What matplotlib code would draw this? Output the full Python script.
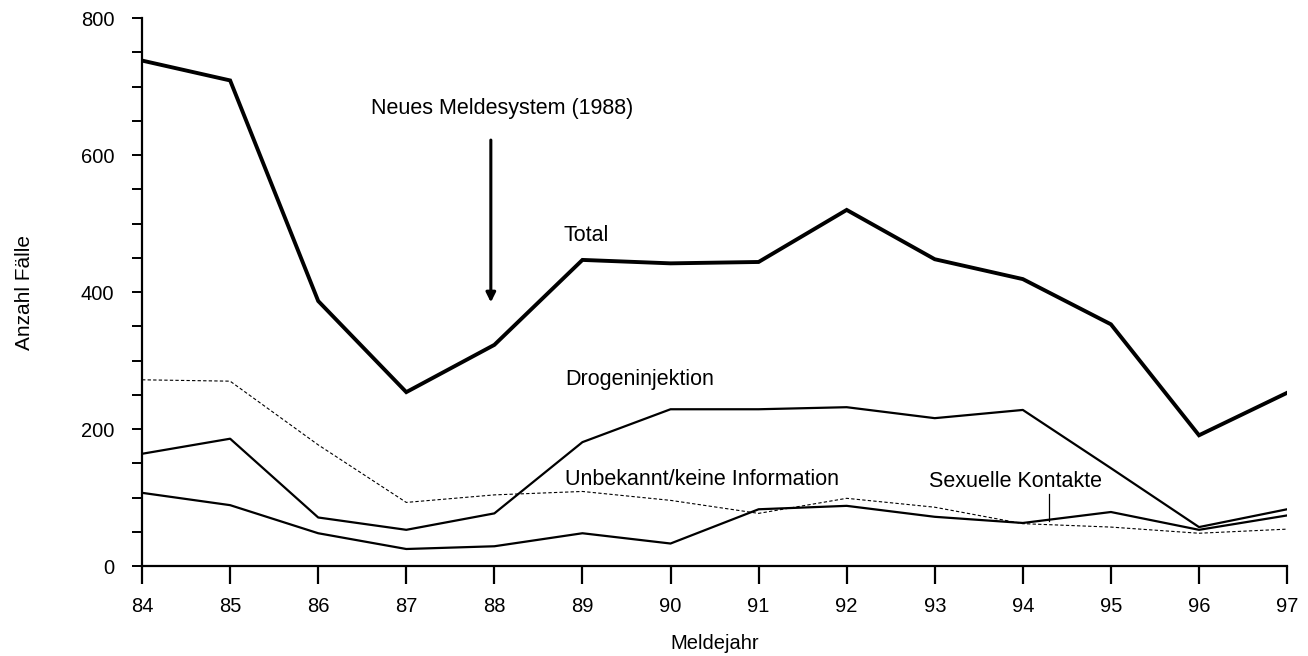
import matplotlib.pyplot as plt
from matplotlib.ticker import MultipleLocator

plt.rcParams['font.family'] = ['Liberation Sans', 'DejaVu Sans']

# data (Meldejahr 1984-1997)
years = [84, 85, 86, 87, 88, 89, 90, 91, 92, 93, 94, 95, 96, 97]
total = [738, 709, 387, 254, 323, 447, 442, 444, 520, 448, 419, 353, 191, 253]
drogen = [164, 186, 71, 53, 77, 181, 229, 229, 232, 216, 228, 143, 57, 83]
unbekannt = [272, 270, 177, 93, 104, 109, 96, 77, 99, 86, 62, 57, 48, 54]
sexuell = [107, 89, 48, 25, 29, 48, 33, 83, 88, 72, 63, 79, 53, 74]

fig = plt.figure(figsize=(13.08, 6.56), dpi=100)
ax = fig.add_axes([0.1086, 0.137, 0.8754, 0.8354])

ax.plot(years, total, color="black", lw=2.8, solid_joinstyle="miter")
ax.plot(years, drogen, color="black", lw=1.6)
ax.plot(years, sexuell, color="black", lw=1.6)
ax.plot(years, unbekannt, color="black", lw=0.8, linestyle=(0, (3, 2)))

ax.set_xlim(84, 97)
ax.set_ylim(0, 800)
ax.set_xticks(years)
ax.set_yticks([0, 200, 400, 600, 800])
ax.yaxis.set_minor_locator(MultipleLocator(50))

for s in ["top", "right"]:
    ax.spines[s].set_visible(False)
for s in ["left", "bottom"]:
    ax.spines[s].set_linewidth(1.6)

ax.tick_params(axis="x", length=13, width=1.6, pad=9, labelsize=14.5)
ax.tick_params(axis="y", which="both", length=7, width=1.4, pad=13, labelsize=14.5)

ax.set_xlabel("Meldejahr", fontsize=14.5, labelpad=13)
ax.set_ylabel("Anzahl Fälle", fontsize=15, labelpad=34)

# annotations
ax.text(86.6, 668, "Neues Meldesystem (1988)", fontsize=15.5, va="center")
ax.annotate("", xy=(87.96, 381), xytext=(87.96, 626),
            arrowprops=dict(arrowstyle="-|>", color="black", lw=2.2,
                            mutation_scale=14))
ax.text(88.78, 483, "Total", fontsize=15.5, va="center")
ax.text(88.8, 273, "Drogeninjektion", fontsize=15.5, va="center")
ax.text(88.8, 127, "Unbekannt/keine Information", fontsize=15.5, va="center")
ax.text(92.93, 123, "Sexuelle Kontakte", fontsize=15.5, va="center")
ax.plot([94.3, 94.3], [106, 66], color="black", lw=0.9)

plt.savefig("out.png", dpi=100)
